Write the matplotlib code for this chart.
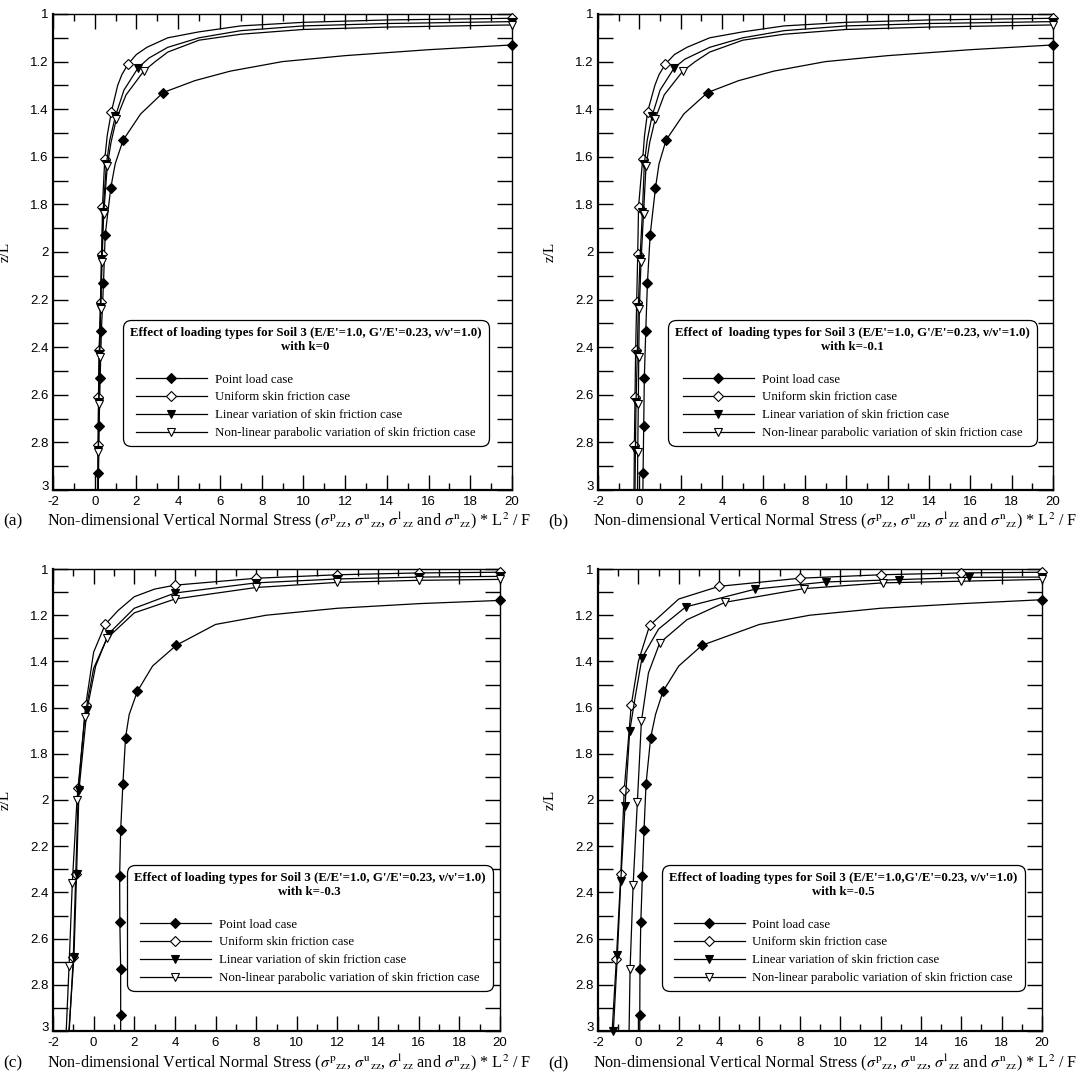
import matplotlib

matplotlib.use("Agg")
import matplotlib.pyplot as plt
from matplotlib.lines import Line2D
from matplotlib.ticker import MultipleLocator

plt.rcParams["font.family"] = ["Liberation Serif", "DejaVu Serif"]
plt.rcParams["mathtext.fontset"] = "stix"
plt.rcParams["axes.unicode_minus"] = False

# ---- data: (x = stress * L^2/F, z = z/L) ---------------------------------
# panel (a) k=0
a_point_x = [20, 16, 12, 9, 6.5, 4.8, 3.28, 2.2, 1.36, 0.98, 0.77, 0.5, 0.42, 0.32, 0.26, 0.21, 0.18, 0.17]
a_point_z = [1.13, 1.15, 1.175, 1.2, 1.24, 1.28, 1.33, 1.42, 1.53, 1.63, 1.73, 1.93, 2.13, 2.33, 2.53, 2.73, 2.93, 3.0]
a_point_mk = [0, 6, 8, 10, 11, 12, 13, 14, 15, 16]
a_uni_x = [20, 14, 10, 7, 5, 3.5, 2.5, 2.0, 1.6, 1.3, 1.1, 0.8, 0.6, 0.48, 0.37, 0.34, 0.29, 0.21, 0.18, 0.16, 0.15]
a_uni_z = [1.018, 1.025, 1.035, 1.05, 1.075, 1.10, 1.14, 1.17, 1.21, 1.255, 1.30, 1.41, 1.51, 1.61, 1.81, 2.01, 2.21, 2.41, 2.61, 2.81, 3.0]
a_uni_mk = [0, 8, 11, 13, 14, 15, 16, 17, 18, 19]
a_lin_x = [20, 14, 10, 7, 5, 3.5, 2.6, 2.08, 1.4, 0.99, 0.72, 0.56, 0.4, 0.32, 0.27, 0.22, 0.19, 0.17, 0.16]
a_lin_z = [1.032, 1.04, 1.05, 1.07, 1.10, 1.14, 1.185, 1.226, 1.32, 1.43, 1.53, 1.63, 1.83, 2.03, 2.23, 2.43, 2.63, 2.83, 3.0]
a_lin_mk = [0, 7, 9, 11, 12, 13, 14, 15, 16, 17]
a_non_x = [20, 14, 10, 7, 5, 3.5, 2.9, 2.35, 1.5, 1.04, 0.78, 0.6, 0.43, 0.35, 0.29, 0.24, 0.2, 0.18, 0.17]
a_non_z = [1.046, 1.055, 1.065, 1.085, 1.11, 1.16, 1.2, 1.24, 1.34, 1.44, 1.54, 1.64, 1.84, 2.04, 2.24, 2.44, 2.64, 2.84, 3.0]
a_non_mk = [0, 7, 9, 11, 12, 13, 14, 15, 16, 17]

# panel (b) k=-0.1
b_point_x = [20, 16, 12, 9, 6.5, 4.8, 3.3, 2.15, 1.29, 0.95, 0.78, 0.52, 0.39, 0.31, 0.24, 0.21, 0.18, 0.17]
b_point_z = [1.13, 1.15, 1.175, 1.2, 1.24, 1.28, 1.33, 1.42, 1.53, 1.63, 1.73, 1.93, 2.13, 2.33, 2.53, 2.73, 2.93, 3.0]
b_point_mk = [0, 6, 8, 10, 11, 12, 13, 14, 15, 16]
b_uni_x = [20, 14, 10, 7, 5, 3.4, 2.3, 1.7, 1.26, 0.95, 0.75, 0.4, 0.25, 0.16, -0.04, -0.08, -0.13, -0.18, -0.21, -0.24, -0.26]
b_uni_z = [1.018, 1.025, 1.035, 1.05, 1.075, 1.10, 1.14, 1.17, 1.21, 1.255, 1.30, 1.41, 1.51, 1.61, 1.81, 2.01, 2.21, 2.41, 2.61, 2.81, 3.0]
b_uni_mk = [0, 8, 11, 13, 14, 15, 16, 17, 18, 19]
b_lin_x = [20, 14, 10, 7, 5, 3.4, 2.2, 1.69, 1.0, 0.61, 0.38, 0.24, 0.15, 0.03, -0.05, -0.1, -0.16, -0.19, -0.21]
b_lin_z = [1.032, 1.04, 1.05, 1.07, 1.10, 1.14, 1.19, 1.226, 1.32, 1.43, 1.53, 1.63, 1.83, 2.03, 2.23, 2.43, 2.63, 2.83, 3.0]
b_lin_mk = [0, 7, 9, 11, 12, 13, 14, 15, 16, 17]
b_non_x = [20, 14, 10, 7, 5, 3.4, 2.7, 2.1, 1.2, 0.77, 0.5, 0.32, 0.2, 0.08, 0.0, -0.03, -0.05, -0.08, -0.09]
b_non_z = [1.046, 1.055, 1.065, 1.085, 1.11, 1.16, 1.2, 1.24, 1.34, 1.44, 1.54, 1.64, 1.84, 2.04, 2.24, 2.44, 2.64, 2.84, 3.0]
b_non_mk = [0, 7, 9, 11, 12, 13, 14, 15, 16, 17]

# panel (c) k=-0.3
c_point_x = [20, 16, 12, 8.5, 6, 4.07, 2.9, 2.15, 1.75, 1.57, 1.44, 1.33, 1.28, 1.29, 1.33, 1.33, 1.33]
c_point_z = [1.136, 1.15, 1.17, 1.2, 1.24, 1.33, 1.42, 1.53, 1.63, 1.73, 1.93, 2.13, 2.33, 2.53, 2.73, 2.93, 3.0]
c_point_mk = [0, 5, 7, 9, 10, 11, 12, 13, 14, 15]
c_uni_x = [20, 16, 12, 8, 4, 3, 2, 1.2, 0.57, 0.0, -0.39, -0.6, -0.75, -0.88, -1.0, -1.2]
c_uni_z = [1.014, 1.017, 1.025, 1.04, 1.07, 1.087, 1.12, 1.18, 1.24, 1.36, 1.59, 1.8, 1.95, 2.32, 2.68, 3.0]
c_uni_mk = [0, 1, 2, 3, 4, 8, 10, 12, 13, 14]
c_lin_x = [20, 16, 12, 8, 4, 2, 0.74, 0.1, -0.33, -0.72, -0.84, -0.97, -1.22]
c_lin_z = [1.032, 1.035, 1.043, 1.06, 1.104, 1.17, 1.28, 1.42, 1.61, 1.955, 2.32, 2.68, 3.0]
c_lin_mk = [0, 1, 2, 3, 4, 6, 8, 9, 10, 11]
c_non_x = [20, 16, 12, 8, 4, 2, 0.66, 0.0, -0.44, -0.82, -1.05, -1.21, -1.35]
c_non_z = [1.045, 1.049, 1.058, 1.08, 1.13, 1.19, 1.30, 1.43, 1.64, 2.0, 2.36, 2.72, 3.0]
c_non_mk = [0, 1, 2, 3, 4, 6, 8, 9, 10, 11]

# panel (d) k=-0.5
d_point_x = [20, 16, 12, 8.5, 6, 3.16, 2.0, 1.22, 0.85, 0.61, 0.38, 0.28, 0.2, 0.12, 0.08, 0.07, 0.07]
d_point_z = [1.133, 1.15, 1.17, 1.2, 1.24, 1.33, 1.42, 1.53, 1.63, 1.73, 1.93, 2.13, 2.33, 2.53, 2.73, 2.93, 3.0]
d_point_mk = [0, 5, 7, 9, 10, 11, 12, 13, 14, 15]
d_uni_x = [20, 16, 12, 8, 4, 2, 0.56, 0.0, -0.35, -0.7, -0.87, -1.09, -1.3]
d_uni_z = [1.014, 1.017, 1.025, 1.04, 1.075, 1.13, 1.244, 1.4, 1.587, 1.955, 2.32, 2.69, 3.0]
d_uni_mk = [0, 1, 2, 3, 4, 6, 8, 9, 10, 11]
d_lin_x = [20, 16.4, 12.9, 9.3, 5.8, 2.35, 1.0, 0.18, -0.15, -0.43, -0.66, -0.87, -1.04, -1.24]
d_lin_z = [1.035, 1.036, 1.046, 1.056, 1.087, 1.164, 1.26, 1.385, 1.55, 1.703, 2.026, 2.35, 2.67, 3.0]
d_lin_mk = [0, 1, 2, 3, 4, 5, 7, 9, 10, 11, 12, 13]
d_non_x = [20, 16, 12.1, 8.2, 4.3, 2.4, 1.06, 0.5, 0.15, -0.05, -0.26, -0.41, -0.46]
d_non_z = [1.045, 1.053, 1.06, 1.085, 1.144, 1.22, 1.32, 1.45, 1.66, 2.01, 2.37, 2.73, 3.0]
d_non_mk = [0, 1, 2, 3, 4, 6, 8, 9, 10, 11]

case_labels = ["Point load case", "Uniform skin friction case",
               "Linear variation of skin friction case",
               "Non-linear parabolic variation of skin friction case"]
panel_tags = ["(a)", "(b)", "(c)", "(d)"]
legend_titles = [
    "Effect of loading types for Soil 3 (E/E'=1.0, G'/E'=0.23, \u03bd/\u03bd'=1.0)\nwith k=0\n",
    "Effect of  loading types for Soil 3 (E/E'=1.0, G'/E'=0.23, \u03bd/\u03bd'=1.0)\nwith k=-0.1\n",
    "Effect of loading types for Soil 3 (E/E'=1.0, G'/E'=0.23, \u03bd/\u03bd'=1.0)\nwith k=-0.3\n",
    "Effect of loading types for Soil 3 (E/E'=1.0,G'/E'=0.23, \u03bd/\u03bd'=1.0)\nwith k=-0.5\n",
]
xlabel = (r"Non-dimensional Vertical Normal Stress ($\sigma^{\rm p}{}_{\rm zz}$, "
          r"$\sigma^{\rm u}{}_{\rm zz}$, $\sigma^{\rm l}{}_{\rm zz}$ and "
          r"$\sigma^{\rm n}{}_{\rm zz}$) * L$^{2}$ / F")

panels = [
    [(a_point_x, a_point_z, a_point_mk), (a_uni_x, a_uni_z, a_uni_mk),
     (a_lin_x, a_lin_z, a_lin_mk), (a_non_x, a_non_z, a_non_mk)],
    [(b_point_x, b_point_z, b_point_mk), (b_uni_x, b_uni_z, b_uni_mk),
     (b_lin_x, b_lin_z, b_lin_mk), (b_non_x, b_non_z, b_non_mk)],
    [(c_point_x, c_point_z, c_point_mk), (c_uni_x, c_uni_z, c_uni_mk),
     (c_lin_x, c_lin_z, c_lin_mk), (c_non_x, c_non_z, c_non_mk)],
    [(d_point_x, d_point_z, d_point_mk), (d_uni_x, d_uni_z, d_uni_mk),
     (d_lin_x, d_lin_z, d_lin_mk), (d_non_x, d_non_z, d_non_mk)],
]

# marker style per loading case
styles = [("D", 4.6, "k"), ("D", 4.6, "white"), ("v", 6.0, "k"), ("v", 6.0, "white")]

W, H = 1084, 1080
# axes boxes in pixels: left, top, right, bottom
boxes = [(53, 14, 512, 490), (598, 14, 1053, 490), (53, 569, 500, 1031), (598, 569, 1042, 1031)]
leg_anchor = [(0.152, 0.357), (0.154, 0.357), (0.165, 0.359), (0.144, 0.359)]
label_pos = [(3, 47, 521), (548, 593, 521), (3, 47, 1063), (548, 593, 1063)]

fig = plt.figure(figsize=(W / 100, H / 100), dpi=100)

for i, series in enumerate(panels):
    l, t, r, b = boxes[i]
    ax = fig.add_axes([l / W, 1 - b / H, (r - l) / W, (b - t) / H])
    for (xs, zs, mk), (m, ms, fc) in zip(series, styles):
        ax.plot(xs, zs, color="k", lw=0.9, marker=m, ms=ms, mfc=fc, mec="k",
                mew=0.8, markevery=mk, zorder=3, clip_on=False)
    ax.set_xlim(-2, 20)
    ax.set_ylim(3, 1)
    ax.xaxis.set_major_locator(MultipleLocator(2))
    ax.xaxis.set_minor_locator(MultipleLocator(1))
    ax.yaxis.set_minor_locator(MultipleLocator(0.1))
    ax.set_yticks([1, 1.2, 1.4, 1.6, 1.8, 2, 2.2, 2.4, 2.6, 2.8, 3],
                  ["1", "1.2", "1.4", "1.6", "1.8", "2", "2.2", "2.4", "2.6", "2.8", "3"])
    ax.tick_params(which="both", direction="in", top=True, right=True, width=1.0,
                   labelsize=9.5, pad=3)
    ax.tick_params(axis="x", which="major", length=11, pad=4.5)
    ax.tick_params(axis="x", which="minor", length=5)
    ax.tick_params(axis="y", which="both", length=11)
    for lab in ax.get_xticklabels() + ax.get_yticklabels():
        lab.set_fontfamily("Liberation Sans")
    # bottom "3" sits a little above the corner, clear of the "-2" below it
    ax.get_yticklabels()[-1].set_verticalalignment("baseline")
    for side in ("left", "bottom"):
        ax.spines[side].set_linewidth(1.6)
    for side in ("top", "right"):
        ax.spines[side].set_linewidth(1.0)
    ax.set_ylabel("z/L", fontsize=11)
    ax.yaxis.set_label_coords(-41 / (r - l), 0.5)

    handles = [Line2D([], [], color="k", lw=0.9, marker=m, ms=ms, mfc=fc, mec="k", mew=0.8)
               for m, ms, fc in styles]
    leg = ax.legend(handles, case_labels, title=legend_titles[i], loc="upper left",
                    bbox_to_anchor=leg_anchor[i], borderaxespad=0, fontsize=9.3,
                    title_fontproperties={"weight": "bold", "size": 9.3},
                    handlelength=5.5, handletextpad=0.6, labelspacing=0.45,
                    borderpad=0.55, fancybox=True, framealpha=1, edgecolor="k",
                    alignment="center")
    leg.get_title().set_multialignment("center")
    leg.get_title().set_linespacing(1.25)
    leg.get_frame().set_linewidth(0.9)
    leg.get_frame().set_boxstyle("round", pad=0, rounding_size=0.6)

    tx, lx, ly = label_pos[i]
    fig.text(tx / W, 1 - ly / H, panel_tags[i], fontsize=12.5, va="center", ha="left")
    fig.text(lx / W, 1 - ly / H, xlabel, fontsize=11.6, va="center", ha="left")

fig.savefig("out.png", dpi=100)
